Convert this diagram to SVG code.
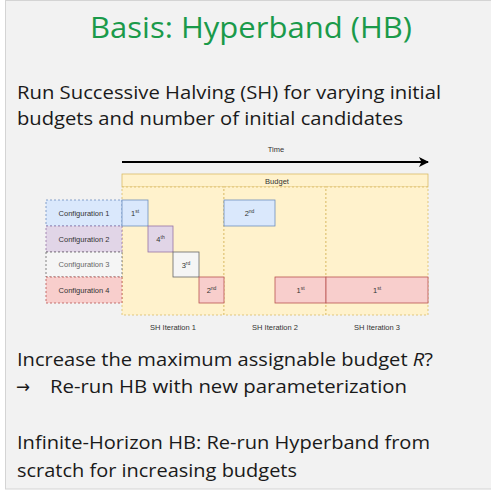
<svg xmlns="http://www.w3.org/2000/svg" width="491" height="494" viewBox="0 0 491 494">
<defs>
<style>
.body{font-family:"Open Sans","DejaVu Sans",sans-serif;font-size:18px;fill:#1a1a1a}
.sm{font-family:"Liberation Sans",Arial,sans-serif;font-size:7.5px;fill:#333;text-anchor:middle}
.sup{font-size:5px}
.blue{fill:#dae8fc;stroke:#6c8ebf}
.purple{fill:#e1d5e7;stroke:#9673a6}
.grey{fill:#f5f5f5;stroke:#666}
.red{fill:#f8cecc;stroke:#b85450}
.dash{stroke-dasharray:2 2}
.yel{fill:#fff2cc;stroke:#d6b656;stroke-width:0.7}
</style>
<marker id="arr" viewBox="0 0 10 10" refX="9" refY="5" markerWidth="5" markerHeight="5" orient="auto" markerUnits="strokeWidth">
<path d="M0,0 L10,5 L0,10 L2.5,5 z" fill="#000"/>
</marker>
</defs>
<rect x="0" y="0" width="491" height="494" fill="#fff"/>
<rect x="5.5" y="0.5" width="490" height="488.5" fill="#f2f2f2" stroke="#d4d4d4" stroke-width="1"/>

<g id="title"><text x="251" y="38" font-family="'Open Sans','DejaVu Sans',sans-serif" font-size="30" fill="#1a9a4a" text-anchor="middle" textLength="322" lengthAdjust="spacingAndGlyphs">Basis: Hyperband (HB)</text></g>

<g id="intro">
<text class="body" x="17" y="99" textLength="424" lengthAdjust="spacingAndGlyphs">Run Successive Halving (SH) for varying initial</text>
<text class="body" x="17" y="125" textLength="386" lengthAdjust="spacingAndGlyphs">budgets and number of initial candidates</text>
</g>

<g id="budget-area">
<rect id="budget" class="yel" x="122" y="174" width="306" height="13"/>
<text class="sm" x="277" y="183.5">Budget</text>
<rect id="col1" class="yel dash" x="122" y="187" width="102" height="128"/>
<rect id="col2" class="yel dash" x="224" y="187" width="102" height="128"/>
<rect id="col3" class="yel dash" x="326" y="187" width="102" height="128"/>
</g>

<g id="configs" stroke-width="0.8">
<g id="config1"><rect class="blue dash" x="46" y="200" width="76" height="26"/><text class="sm" x="84" y="215.5">Configuration 1</text></g>
<g id="config2"><rect class="purple dash" x="46" y="226" width="76" height="26"/><text class="sm" x="84" y="241.5">Configuration 2</text></g>
<g id="config3"><rect class="grey dash" x="46" y="252" width="76" height="25"/><text class="sm" x="84" y="267" style="fill:#666">Configuration 3</text></g>
<g id="config4"><rect class="red dash" x="46" y="277" width="76" height="26"/><text class="sm" x="84" y="292.5">Configuration 4</text></g>
</g>

<g id="blocks" stroke-width="0.8">
<g id="b1"><rect class="blue" x="122" y="200" width="26" height="26"/><text class="sm" x="135" y="216">1<tspan class="sup" dy="-3">st</tspan></text></g>
<g id="b2"><rect class="purple" x="148" y="226" width="25" height="26"/><text class="sm" x="160.5" y="242">4<tspan class="sup" dy="-3">th</tspan></text></g>
<g id="b3"><rect class="grey" x="173" y="252" width="26" height="25"/><text class="sm" x="186" y="267.5">3<tspan class="sup" dy="-3">rd</tspan></text></g>
<g id="b4"><rect class="red" x="199" y="277" width="25" height="26"/><text class="sm" x="211.5" y="293">2<tspan class="sup" dy="-3">nd</tspan></text></g>
<g id="b5"><rect class="blue" x="224" y="200" width="51" height="26"/><text class="sm" x="249.5" y="216">2<tspan class="sup" dy="-3">nd</tspan></text></g>
<g id="b6"><rect class="red" x="275" y="277" width="51" height="26"/><text class="sm" x="300.5" y="293">1<tspan class="sup" dy="-3">st</tspan></text></g>
<g id="b7"><rect class="red" x="326" y="277" width="102" height="26"/><text class="sm" x="377" y="293">1<tspan class="sup" dy="-3">st</tspan></text></g>
</g>

<g id="labels">
<text class="sm" x="276" y="152">Time</text>
<text class="sm" x="173" y="330">SH Iteration 1</text>
<text class="sm" x="275" y="330">SH Iteration 2</text>
<text class="sm" x="377" y="330">SH Iteration 3</text>
</g>

<g id="connectors">
<line x1="122" y1="162" x2="428" y2="162" stroke="#000" stroke-width="2" marker-end="url(#arr)"/>
</g>

<g id="outro">
<text class="body" x="16" y="393" font-family="'DejaVu Sans',sans-serif" font-size="20" textLength="14" lengthAdjust="spacingAndGlyphs">→</text>
<text class="body" x="17" y="366" textLength="416" lengthAdjust="spacingAndGlyphs">Increase the maximum assignable budget <tspan font-style="italic">R</tspan>?</text>
<text class="body" x="50" y="393" textLength="357" lengthAdjust="spacingAndGlyphs">Re-run HB with new parameterization</text>
<text class="body" x="17" y="449" textLength="413" lengthAdjust="spacingAndGlyphs">Infinite-Horizon HB: Re-run Hyperband from</text>
<text class="body" x="17" y="477" textLength="280" lengthAdjust="spacingAndGlyphs">scratch for increasing budgets</text>
</g>
</svg>
